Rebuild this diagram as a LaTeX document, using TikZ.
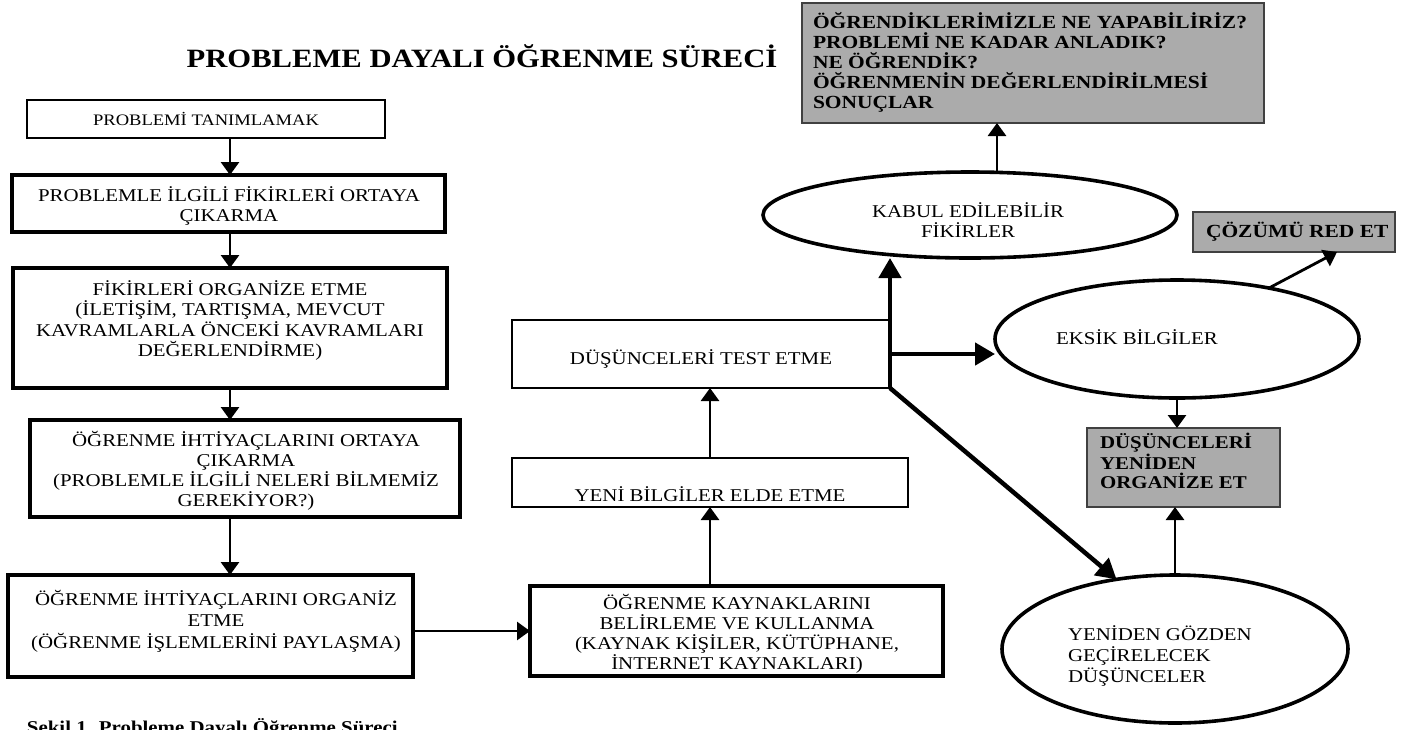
\documentclass[tikz,border=0pt]{standalone}
\usepackage{fontspec}
\setmainfont{Liberation Serif}[FakeStretch=1.16]
\usetikzlibrary{arrows.meta,shapes.geometric,calc}
\begin{document}
\begin{tikzpicture}[x=1pt,y=-1pt,
  every node/.style={inner sep=0pt, outer sep=0pt},
  boxthin/.style={draw, line width=2.2pt, rectangle},
  boxthick/.style={draw, line width=3.8pt, rectangle},
  ell/.style={draw, ellipse, line width=3.6pt},
  graybox/.style={draw=black!75, line width=1.6pt, fill=black!33, rectangle},
  txt/.style={font=\fontsize{18}{20.5}\selectfont, align=center, anchor=base},
  gtxt/.style={font=\bfseries\fontsize{18.5}{20}\selectfont, align=left, anchor=base west},
  arr/.style={line width=2.8pt, -{Triangle[length=13pt,width=18pt]}},
  bigarr/.style={line width=4.5pt, -{Triangle[length=20pt,width=22pt]}},
]
\fill[white] (0,0) rectangle (1402,729);
\useasboundingbox (0,0) rectangle (1402,729);

% title
\node[font=\bfseries\fontsize{26.4}{30}\selectfont, anchor=base] (title) at (482,67) {PROBLEME DAYALI ÖĞRENME SÜRECİ};

% left column (text nodes: anchor = baseline of the last line)
\node[boxthin, minimum width=358, minimum height=38] (b1) at (206,119) {};
\node[txt, font=\fontsize{16}{18}\selectfont] (t1) at (206,125) {PROBLEMİ TANIMLAMAK};

\node[boxthick, minimum width=433, minimum height=57] (b2) at (228.5,203.5) {};
\node[txt] (t2) at (229,221.5) {PROBLEMLE İLGİLİ FİKİRLERİ ORTAYA\\ÇIKARMA};

\node[boxthick, minimum width=434, minimum height=120] (b3) at (230,328) {};
\node[txt] (t3) at (230,356.5) {FİKİRLERİ ORGANİZE ETME\\(İLETİŞİM, TARTIŞMA, MEVCUT\\KAVRAMLARLA ÖNCEKİ KAVRAMLARI\\DEĞERLENDİRME)};

\node[boxthick, minimum width=430, minimum height=97] (b4) at (245,468.5) {};
\node[txt, font=\fontsize{18}{20}\selectfont] (t4) at (246,506) {ÖĞRENME İHTİYAÇLARINI ORTAYA\\ÇIKARMA\\(PROBLEMLE İLGİLİ NELERİ BİLMEMİZ\\GEREKİYOR?)};

\node[boxthick, minimum width=405, minimum height=102] (b5) at (210.5,626) {};
\node[txt, font=\fontsize{18}{21.5}\selectfont] (t5) at (216,648) {ÖĞRENME İHTİYAÇLARINI ORGANİZ\\ETME\\(ÖĞRENME İŞLEMLERİNİ PAYLAŞMA)};

% middle column
\node[boxthick, minimum width=413, minimum height=90] (b6) at (736.5,631) {};
\node[txt, font=\fontsize{18}{20}\selectfont] (t6) at (737,669) {ÖĞRENME KAYNAKLARINI\\BELİRLEME VE KULLANMA\\(KAYNAK KİŞİLER, KÜTÜPHANE,\\İNTERNET KAYNAKLARI)};

\node[boxthin, minimum width=396, minimum height=49] (b7) at (710,482.5) {};
\node[txt] (t7) at (710,501) {YENİ BİLGİLER ELDE ETME};

\node[boxthin, minimum width=378, minimum height=68] (b8) at (701,354) {};
\node[txt] (t8) at (701,364) {DÜŞÜNCELERİ TEST ETME};

% right part
\node[graybox, minimum width=462, minimum height=120] (top) at (1033,63) {};
\node[gtxt] (ttop) at (813,108) {ÖĞRENDİKLERİMİZLE NE YAPABİLİRİZ?\\PROBLEMİ NE KADAR ANLADIK?\\NE ÖĞRENDİK?\\ÖĞRENMENİN DEĞERLENDİRİLMESİ\\SONUÇLAR};

\node[ell, minimum width=414, minimum height=86] (kabul) at (970,215) {};
\node[txt, font=\fontsize{18}{20}\selectfont] (tkabul) at (968,237) {KABUL EDİLEBİLİR\\FİKİRLER};

\node[graybox, minimum width=202, minimum height=40] (cozum) at (1294,232) {};
\node[gtxt] (tcozum) at (1206,237) {ÇÖZÜMÜ RED ET};

\node[ell, minimum width=364, minimum height=118] (eksik) at (1177,339) {};
\node[txt] (teksik) at (1137,344) {EKSİK BİLGİLER};

\node[graybox, minimum width=193, minimum height=79] (dus) at (1183.5,467.5) {};
\node[gtxt, font=\bfseries\fontsize{18}{19}\selectfont] (tdus) at (1100,488) {DÜŞÜNCELERİ\\YENİDEN\\ORGANİZE ET};

\node[ell, minimum width=346, minimum height=148] (yen) at (1175,649) {};
\node[txt, font=\fontsize{18}{21}\selectfont, align=left, anchor=base west] (tyen) at (1068,682) {YENİDEN GÖZDEN\\GEÇİRELECEK\\DÜŞÜNCELER};

% caption (cut by the page edge)
\node[font=\bfseries\fontsize{18}{20}\selectfont, anchor=base west] (cap) at (27,733) {Şekil 1. Probleme Dayalı Öğrenme Süreci};

% connectors
\coordinate (colx) at (230,0);
\coordinate (kx) at (997,0);
\draw[arr] (b1.south -| colx) -- (b2.north -| colx);
\draw[arr] (b2.south -| colx) -- (b3.north -| colx);
\draw[arr] (b3.south -| colx) -- (b4.north -| colx);
\draw[arr] (b4.south -| colx) -- (b5.north -| colx);
\draw[arr] (b6.west -| b5.east) -- (b6.west);
\draw[arr] (b6.north -| b7.south) -- (b7.south);
\draw[arr] (b7.north) -- (b7.north |- b8.south);
\draw[bigarr] (b8.south east) -- (b8.south east |- kabul.south);
\draw[bigarr] (b8.east) -- (b8.east -| eksik.west);
\draw[bigarr] (b8.south east) -- (yen.130);
\draw[arr] (kabul.north -| kx) -- (top.south -| kx);
\draw[arr] (eksik.29) -- ($(cozum.south west)+(144,0)$);
\draw[arr] (eksik.south) -- (eksik.south |- dus.north);
\draw[arr] (yen.north) -- (yen.north |- dus.south);
\end{tikzpicture}
\end{document}
